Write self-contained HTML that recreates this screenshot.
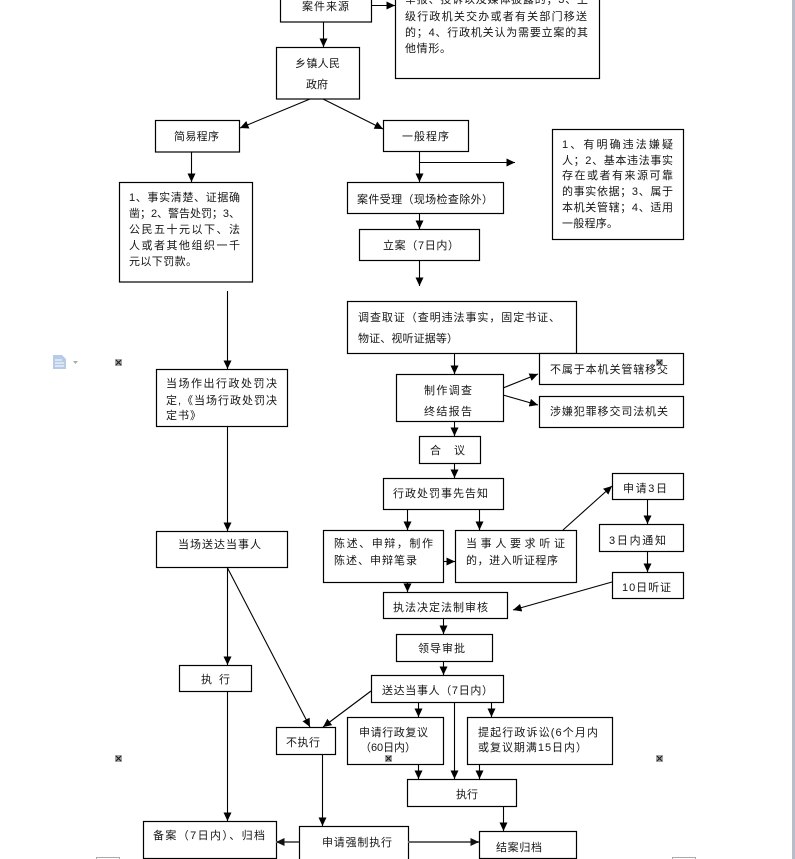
<!DOCTYPE html>
<html>
<head>
<meta charset="utf-8">
<style>
  html,body{margin:0;padding:0;background:#fff;}
  body{width:795px;height:859px;overflow:hidden;position:relative;}
  svg{position:absolute;left:0;top:0;}
  text{font-family:"Liberation Sans","Noto Sans CJK SC","WenQuanYi Zen Hei",sans-serif;font-size:11px;fill:#151515;}
</style>
</head>
<body>
<svg width="795" height="859" viewBox="0 0 795 859" xmlns="http://www.w3.org/2000/svg">
  <defs>
    <marker id="a" markerWidth="9" markerHeight="9" refX="8.5" refY="4.5" orient="auto" markerUnits="userSpaceOnUse">
      <path d="M0,0.5 L8.5,4.5 L0,8.5 z" fill="#000"/>
    </marker>
    <marker id="g" markerWidth="9" markerHeight="9" refX="8.5" refY="4.5" orient="auto" markerUnits="userSpaceOnUse">
      <path d="M0,0.5 L8.5,4.5 L0,8.5 z" fill="#111"/>
    </marker>
  </defs>

  <!-- right grey bar -->
  <rect x="792" y="0" width="3" height="859" fill="#b9bdc8"/>
  <!-- bottom small grey marks -->
  <path d="M96.5,859 V857.5 H119.5 V859" fill="none" stroke="#aaa" stroke-width="1"/>
  <path d="M672.5,859 V857.5 H695.5 V859" fill="none" stroke="#aaa" stroke-width="1"/>

  <!-- boxes -->
  <g fill="#fff" stroke="#000" stroke-width="1.2">
    <rect x="280.5" y="-5" width="91" height="27"/>
    <rect x="395.5" y="-5" width="204" height="83.5"/>
    <rect x="276.5" y="47.5" width="83" height="51.5"/>
    <rect x="155.5" y="120.5" width="84" height="31.5"/>
    <rect x="383.5" y="120.5" width="85" height="31"/>
    <rect x="552.5" y="129.5" width="131" height="110"/>
    <rect x="119.5" y="182.5" width="133" height="99.5"/>
    <rect x="347.5" y="182.5" width="156" height="31"/>
    <rect x="359.5" y="229.5" width="120" height="31"/>
    <rect x="347.5" y="301.5" width="229" height="52"/>
    <rect x="396.5" y="374.5" width="107" height="47"/>
    <rect x="539.5" y="353.5" width="144" height="31"/>
    <rect x="539.5" y="396.5" width="144" height="31"/>
    <rect x="419.5" y="436.5" width="61" height="27"/>
    <rect x="383.5" y="478.5" width="120" height="31"/>
    <rect x="323.5" y="530.5" width="120" height="52"/>
    <rect x="455.5" y="530.5" width="121" height="52"/>
    <rect x="612.5" y="473.5" width="71" height="26"/>
    <rect x="599.5" y="524.5" width="84" height="27"/>
    <rect x="612.5" y="572.5" width="71" height="26"/>
    <rect x="383.5" y="592.5" width="124" height="26"/>
    <rect x="396.5" y="634.5" width="96" height="27"/>
    <rect x="371.5" y="675.5" width="132" height="27"/>
    <rect x="347.5" y="717.5" width="96" height="47"/>
    <rect x="467.5" y="717.5" width="145" height="47"/>
    <rect x="407.5" y="779.5" width="109" height="27"/>
    <rect x="479.5" y="831.5" width="97" height="27"/>
    <rect x="299.5" y="826.5" width="109" height="40"/>
    <rect x="143.5" y="821.5" width="133" height="37"/>
    <rect x="276.5" y="727.5" width="59" height="27"/>
    <rect x="179.5" y="665.5" width="72" height="26"/>
    <rect x="156.5" y="369.5" width="131" height="57"/>
    <rect x="156.5" y="531.5" width="131" height="36"/>
  </g>

  <!-- connectors -->
  <g stroke="#000" stroke-width="1.1" fill="none" marker-end="url(#a)">
    <line x1="372" y1="5.5" x2="395" y2="5.5"/>
    <line x1="323.5" y1="22" x2="323.5" y2="47"/>
    <line x1="310" y1="99" x2="240" y2="128"/>
    <line x1="323" y1="99" x2="383" y2="129"/>
    <line x1="191.5" y1="152" x2="191.5" y2="182"/>
    <line x1="419.5" y1="151" x2="419.5" y2="182"/>
    <line x1="419.5" y1="162.5" x2="515" y2="162.5"/>
    <line x1="419.5" y1="213" x2="419.5" y2="229"/>
    <line x1="419.5" y1="260" x2="419.5" y2="286"/>
    <line x1="454.5" y1="353" x2="454.5" y2="374"/>
    <line x1="503" y1="388" x2="538" y2="374"/>
    <line x1="503" y1="395" x2="538" y2="405"/>
    <line x1="454.5" y1="421" x2="454.5" y2="436"/>
    <line x1="454.5" y1="463" x2="454.5" y2="478"/>
    <line x1="407.5" y1="509" x2="407.5" y2="530"/>
    <line x1="479.5" y1="509" x2="479.5" y2="530"/>
    <line x1="443" y1="561.5" x2="455" y2="561.5"/>
    <line x1="563" y1="530" x2="612" y2="486"/>
    <line x1="647.5" y1="499" x2="647.5" y2="524"/>
    <line x1="647.5" y1="551" x2="647.5" y2="572"/>
    <line x1="612" y1="582" x2="513" y2="610"/>
    <line x1="407.5" y1="582" x2="407.5" y2="592"/>
    <line x1="443.5" y1="618" x2="443.5" y2="634"/>
    <line x1="443.5" y1="661" x2="443.5" y2="675"/>
    <line x1="371" y1="691" x2="323" y2="727"/>
    <line x1="418.5" y1="702" x2="418.5" y2="717"/>
    <line x1="491.5" y1="702" x2="491.5" y2="717"/>
    <line x1="454.5" y1="702" x2="454.5" y2="779"/>
    <line x1="418.5" y1="764" x2="418.5" y2="779"/>
    <line x1="479.5" y1="764" x2="479.5" y2="779"/>
    <line x1="503.5" y1="806" x2="503.5" y2="831"/>
    <line x1="322.5" y1="754" x2="322.5" y2="826"/>
    <line x1="227.5" y1="291" x2="227.5" y2="369"/>
    <line x1="227.5" y1="426" x2="227.5" y2="531"/>
    <line x1="227.5" y1="567" x2="227.5" y2="665"/>
    <line x1="227.5" y1="691" x2="227.5" y2="821"/>
    <line x1="227" y1="567" x2="310" y2="727"/>
  </g>
  <g stroke="#666" stroke-width="2" fill="none" marker-end="url(#g)">
    <line x1="408" y1="842" x2="479" y2="842"/>
    <line x1="299" y1="842" x2="276" y2="842"/>
  </g>

  <!-- texts -->
  <g>
    <text x="302" y="10" textLength="47" lengthAdjust="spacing">案件来源</text>

    <text x="405" y="3" textLength="183" lengthAdjust="spacing">举报、投诉以及媒体披露的；3、上</text>
    <text x="405" y="20" textLength="182" lengthAdjust="spacing">级行政机关交办或者有关部门移送</text>
    <text x="405" y="36" textLength="183" lengthAdjust="spacing">的；4、行政机关认为需要立案的其</text>
    <text x="405" y="52" textLength="46" lengthAdjust="spacing">他情形。</text>

    <text x="295" y="67" textLength="45" lengthAdjust="spacing">乡镇人民</text>
    <text x="306" y="88" textLength="22" lengthAdjust="spacing">政府</text>

    <text x="174" y="140" textLength="45" lengthAdjust="spacing">简易程序</text>
    <text x="402" y="140" textLength="47" lengthAdjust="spacing">一般程序</text>

    <text x="129" y="201" textLength="111" lengthAdjust="spacing">1、事实清楚、证据确</text>
    <text x="129" y="217" textLength="111" lengthAdjust="spacing">凿；2、警告处罚；3、</text>
    <text x="129" y="233" textLength="111" lengthAdjust="spacing">公民五十元以下、法</text>
    <text x="129" y="249" textLength="111" lengthAdjust="spacing">人或者其他组织一千</text>
    <text x="129" y="265" textLength="68" lengthAdjust="spacing">元以下罚款。</text>

    <text x="562" y="148" textLength="111" lengthAdjust="spacing">1、有明确违法嫌疑</text>
    <text x="562" y="164" textLength="111" lengthAdjust="spacing">人；2、基本违法事实</text>
    <text x="562" y="179" textLength="111" lengthAdjust="spacing">存在或者有来源可靠</text>
    <text x="562" y="195" textLength="111" lengthAdjust="spacing">的事实依据；3、属于</text>
    <text x="562" y="211" textLength="111" lengthAdjust="spacing">本机关管辖；4、适用</text>
    <text x="562" y="227" textLength="56" lengthAdjust="spacing">一般程序。</text>

    <text x="357" y="203" textLength="136" lengthAdjust="spacing">案件受理（现场检查除外）</text>
    <text x="383" y="249" textLength="76" lengthAdjust="spacing">立案（7日内）</text>

    <text x="358" y="321" textLength="202" lengthAdjust="spacing">调查取证（查明违法事实，固定书证、</text>
    <text x="358" y="342" textLength="100" lengthAdjust="spacing">物证、视听证据等）</text>

    <text x="424" y="394" textLength="48" lengthAdjust="spacing">制作调查</text>
    <text x="424" y="415" textLength="48" lengthAdjust="spacing">终结报告</text>

    <text x="550" y="373" textLength="118" lengthAdjust="spacing">不属于本机关管辖移交</text>
    <text x="550" y="415" textLength="118" lengthAdjust="spacing">涉嫌犯罪移交司法机关</text>

    <text x="430" y="454">合</text>
    <text x="454" y="454">议</text>

    <text x="393" y="497" textLength="95" lengthAdjust="spacing">行政处罚事先告知</text>

    <text x="334" y="547" textLength="99" lengthAdjust="spacing">陈述、申辩，制作</text>
    <text x="334" y="564" textLength="83" lengthAdjust="spacing">陈述、申辩笔录</text>

    <text x="466" y="547" textLength="99" lengthAdjust="spacing">当事人要求听证</text>
    <text x="466" y="564" textLength="92" lengthAdjust="spacing">的，进入听证程序</text>

    <text x="623" y="492" textLength="44" lengthAdjust="spacing">申请3日</text>
    <text x="609" y="544" textLength="57" lengthAdjust="spacing">3日内通知</text>
    <text x="622" y="591" textLength="49" lengthAdjust="spacing">10日听证</text>

    <text x="393" y="611" textLength="95" lengthAdjust="spacing">执法决定法制审核</text>
    <text x="418" y="652" textLength="47" lengthAdjust="spacing">领导审批</text>
    <text x="382" y="694" textLength="111" lengthAdjust="spacing">送达当事人（7日内）</text>

    <text x="359" y="736" textLength="69" lengthAdjust="spacing">申请行政复议</text>
    <text x="360" y="751" textLength="56" lengthAdjust="spacing">（60日内）</text>

    <text x="478" y="736" textLength="120" lengthAdjust="spacing">提起行政诉讼(6个月内</text>
    <text x="478" y="751" textLength="109" lengthAdjust="spacing">或复议期满15日内）</text>

    <text x="456" y="798" textLength="22" lengthAdjust="spacing">执行</text>
    <text x="496" y="851" textLength="46" lengthAdjust="spacing">结案归档</text>
    <text x="322" y="846" textLength="70" lengthAdjust="spacing">申请强制执行</text>
    <text x="153" y="839" textLength="112" lengthAdjust="spacing">备案（7日内）、归档</text>
    <text x="286" y="746" textLength="34" lengthAdjust="spacing">不执行</text>

    <text x="201" y="683">执</text>
    <text x="219" y="683">行</text>

    <text x="166" y="387" textLength="111" lengthAdjust="spacing">当场作出行政处罚决</text>
    <text x="166" y="404" textLength="111" lengthAdjust="spacing">定,《当场行政处罚决</text>
    <text x="166" y="419" textLength="35" lengthAdjust="spacing">定书》</text>

    <text x="178" y="548" textLength="83" lengthAdjust="spacing">当场送达当事人</text>
  </g>

  <!-- small UI icons -->
  <g>
    <path d="M53,355 H62 L66,359 V369 H53 Z" fill="#b7cbe8"/>
    <g stroke="#fff" stroke-width="1">
      <line x1="55" y1="360" x2="62" y2="360"/>
      <line x1="55" y1="363" x2="64" y2="363"/>
      <line x1="55" y1="366" x2="64" y2="366"/>
    </g>
    <path d="M73,361 L78,361 L75.5,364 Z" fill="#aaa"/>
  </g>
  <g>
    <g transform="translate(115,359)">
      <rect x="0" y="0" width="7" height="7" fill="#aaa"/>
      <path d="M1,1 L6,6 M6,1 L1,6" stroke="#222" stroke-width="1.2"/>
    </g>
    <g transform="translate(115,755)">
      <rect x="0" y="0" width="7" height="7" fill="#aaa"/>
      <path d="M1,1 L6,6 M6,1 L1,6" stroke="#222" stroke-width="1.2"/>
    </g>
    <g transform="translate(656,755)">
      <rect x="0" y="0" width="7" height="7" fill="#aaa"/>
      <path d="M1,1 L6,6 M6,1 L1,6" stroke="#222" stroke-width="1.2"/>
    </g>
    <g transform="translate(385,755)">
      <rect x="0" y="0" width="7" height="7" fill="#aaa"/>
      <path d="M1,1 L6,6 M6,1 L1,6" stroke="#222" stroke-width="1.2"/>
    </g>
    <g transform="translate(656,359)">
      <rect x="0" y="0" width="7" height="7" fill="#aaa"/>
      <path d="M1,1 L6,6 M6,1 L1,6" stroke="#222" stroke-width="1.2"/>
    </g>
  </g>
</svg>
</body>
</html>
